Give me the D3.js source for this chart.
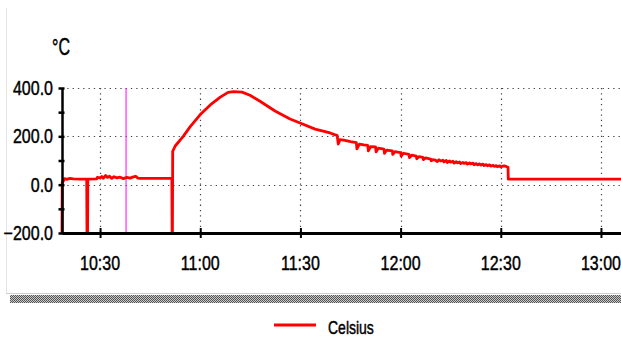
<!DOCTYPE html>
<html>
<head>
<meta charset="utf-8">
<script src="https://cdn.jsdelivr.net/npm/d3@7"></script>
<style>
  body { margin: 0; background: #fff; }
  text { font-family: "Liberation Sans Narrow", "Arial Narrow", "Liberation Sans", sans-serif; fill: #000; stroke: #000; stroke-width: 0.35px; }
</style>
</head>
<body>
<svg id="chart" width="621" height="338"></svg>
<script>
var sampleTimes = [
  "10:18:36","10:18:40","10:19:00","10:19:20","10:20:00","10:21:00","10:22:00","10:24:00",
  "10:26:00","10:26:05","10:26:15","10:26:20","10:29:00","10:29:10","10:30:00","10:30:30",
  "10:31:00","10:31:40","10:32:10","10:32:50","10:33:30","10:34:10","10:35:00","10:36:00",
  "10:37:00","10:38:00","10:39:00","10:40:00","10:40:40","10:41:20","10:42:00","10:46:00",
  "10:51:30","10:51:35","10:51:40","10:51:45","10:52:30","10:54:54","10:57:00","11:00:00",
  "11:03:00","11:06:00","11:08:20","11:10:00","11:12:30","11:14:54","11:17:54","11:22:24",
  "11:26:54","11:29:54","11:34:24","11:38:54","11:40:24",
  "11:41:00","11:41:20","11:41:50","11:43:00","11:45:00","11:46:45","11:46:55","11:47:40",
  "11:49:00","11:50:10","11:50:20","11:51:00","11:52:30","11:52:40","11:53:20","11:55:00",
  "11:55:10","11:55:50","11:57:30","11:57:40","11:58:20","12:00:00","12:00:10","12:00:50",
  "12:02:30","12:02:40","12:03:20","12:04:40","12:04:50","12:05:30","12:06:40","12:06:50",
  "12:07:30","12:09:00","12:09:10","12:09:40",
  "12:10:20","12:11:00","12:11:30","12:12:00","12:12:40","12:13:00","12:13:40","12:14:00",
  "12:14:40","12:15:00","12:15:40","12:16:00","12:16:40","12:17:00","12:17:40","12:18:00",
  "12:18:40","12:19:00","12:19:40","12:20:00","12:20:40","12:21:00","12:21:40","12:22:00",
  "12:22:40","12:23:00","12:23:40","12:24:00","12:24:40","12:25:00","12:25:40","12:26:00",
  "12:26:40","12:27:00","12:27:40","12:28:00","12:28:40","12:29:00","12:29:40","12:30:00",
  "12:30:40","12:31:00","12:31:40","12:32:10","12:32:15",
  "13:06:00"
];
var celsius = [
  -200, 10, 15, 25, 22, 26, 24, 23,
  23, -200, -200, 23, 24, 30, 28, 34,
  27, 38, 30, 35, 26, 33, 28, 31,
  25, 30, 27, 32, 35, 27, 26, 26,
  26, -200, -200, 138, 160, 200, 240, 290,
  330, 362, 382, 385, 383, 370, 345, 305,
  272, 255, 230, 214, 206,
  204, 168, 186, 184, 178, 174, 148, 168,
  165, 163, 140, 157, 156, 136, 151, 147,
  130, 143, 140, 125, 137, 133, 118, 130,
  125, 112, 122, 118, 107, 116, 113, 104,
  111, 106, 99, 104,
  102, 96, 103, 98, 101, 94, 100, 92,
  98, 93, 97, 89, 95, 90, 94, 87,
  92, 88, 91, 85, 90, 86, 89, 83,
  87, 82, 86, 81, 85, 79, 83, 78,
  82, 77, 80, 76, 79, 74, 78, 73,
  77, 78, 75, 72, 23,
  23
];
var timeTicks = ["10:30","11:00","11:30","12:00","12:30","13:00"];
var valueTicks = [-200, -100, 0, 100, 200, 300, 400];
var valueLabels = [-200, 0, 200, 400];
var gridValues = [0, 200, 400];
var cursorTime = "10:37:47";
var timeStart = "10:18:36", timeEnd = "13:06:00";
var seriesName = "Celsius";

var parse = d3.timeParse("%H:%M:%S");
var parseTick = d3.timeParse("%H:%M");
var data = sampleTimes.map(function(t, i) { return {t: parse(t), v: celsius[i]}; });

var svg = d3.select("#chart");
var plotLeft = 62, plotRight = 621, plotTop = 88, plotBottom = 233;

var x = d3.scaleTime().domain([parse(timeStart), parse(timeEnd)]).range([plotLeft, plotRight]);
var y = d3.scaleLinear().domain([-200, 400]).range([plotBottom, plotTop]);

// frame
svg.append("line").attr("x1", 6.5).attr("x2", 6.5).attr("y1", 8).attr("y2", 293)
  .attr("stroke", "#e4e4e4");
svg.append("line").attr("x1", 6).attr("x2", 621).attr("y1", 293.5).attr("y2", 293.5)
  .attr("stroke", "#d0d0d0");
var pat = svg.append("defs").append("pattern").attr("id", "hatch")
  .attr("width", 2).attr("height", 2).attr("patternUnits", "userSpaceOnUse");
pat.append("rect").attr("width", 2).attr("height", 2).attr("fill", "#c8c8c8");
pat.append("rect").attr("width", 1).attr("height", 1).attr("fill", "#555");
pat.append("rect").attr("x", 1).attr("y", 1).attr("width", 1).attr("height", 1).attr("fill", "#555");
svg.append("rect").attr("x", 10).attr("y", 295).attr("width", 611).attr("height", 8)
  .attr("fill", "url(#hatch)");

// dotted grid
var grid = svg.append("g").attr("stroke", "#444").attr("stroke-width", 1.2)
  .attr("stroke-dasharray", "1.3,4");
grid.selectAll(".h").data(gridValues).enter().append("line")
  .attr("x1", plotLeft).attr("x2", plotRight)
  .attr("y1", function(d) { return Math.round(y(d)) + 0.5; })
  .attr("y2", function(d) { return Math.round(y(d)) + 0.5; });
grid.selectAll(".v").data(timeTicks).enter().append("line")
  .attr("y1", plotTop).attr("y2", plotBottom)
  .attr("x1", function(d) { return Math.round(x(parseTick(d))) + 0.5; })
  .attr("x2", function(d) { return Math.round(x(parseTick(d))) + 0.5; });

// cursor
svg.append("line").attr("x1", x(parse(cursorTime))).attr("x2", x(parse(cursorTime)))
  .attr("y1", plotTop).attr("y2", plotBottom).attr("stroke", "#ff00ff").attr("stroke-width", 1);

// series
var line = d3.line().x(function(d) { return x(d.t); }).y(function(d) { return y(d.v); });
svg.append("path").datum(data).attr("d", line)
  .attr("fill", "none").attr("stroke", "#ff0000").attr("stroke-width", 2.8)
  .attr("stroke-linejoin", "round");

// axes
var yAxis = d3.axisLeft(y).tickValues(valueTicks).tickSize(0).tickFormat("");
var gy = svg.append("g").attr("transform", "translate(" + plotLeft + ",0)").call(yAxis);
gy.select(".domain").attr("stroke", "#000").attr("stroke-width", 2.5);
gy.selectAll(".tick").append("line").attr("x1", -3.5).attr("x2", 2.5)
  .attr("stroke", "#000").attr("stroke-width", 2.5);

var xAxis = d3.axisBottom(x).tickValues(timeTicks.map(parseTick)).tickSize(0).tickFormat("");
var gx = svg.append("g").attr("transform", "translate(0," + plotBottom + ")").call(xAxis);
gx.select(".domain").attr("stroke", "#000").attr("stroke-width", 2.8);
gx.selectAll(".tick").append("line").attr("y1", -5).attr("y2", 5)
  .attr("stroke", "#000").attr("stroke-width", 2);

// labels (stretched narrow type, like the original bitmap)
svg.selectAll(".ylab").data(valueLabels).enter().append("g")
  .attr("transform", function(d) { return "translate(53," + (y(d) + 7) + ") scale(1,1.25)"; })
  .append("text").attr("text-anchor", "end").attr("font-size", 16)
  .text(function(d) { return d3.format(".1f")(d); });

svg.selectAll(".xlab").data(timeTicks).enter().append("g")
  .attr("transform", function(d) { return "translate(" + x(parseTick(d)) + ",270) scale(1,1.3)"; })
  .append("text").attr("text-anchor", "middle").attr("font-size", 16)
  .text(function(d) { return d; });

svg.append("g").attr("transform", "translate(52,55) scale(1,1.45)")
  .append("text").attr("font-size", 16).text("°C");

// legend
svg.append("line").attr("x1", 274).attr("x2", 316).attr("y1", 325).attr("y2", 325)
  .attr("stroke", "#ff0000").attr("stroke-width", 3);
svg.append("g").attr("transform", "translate(328,334) scale(1,1.3)")
  .append("text").attr("font-size", 14).text(seriesName);
</script>
</body>
</html>
